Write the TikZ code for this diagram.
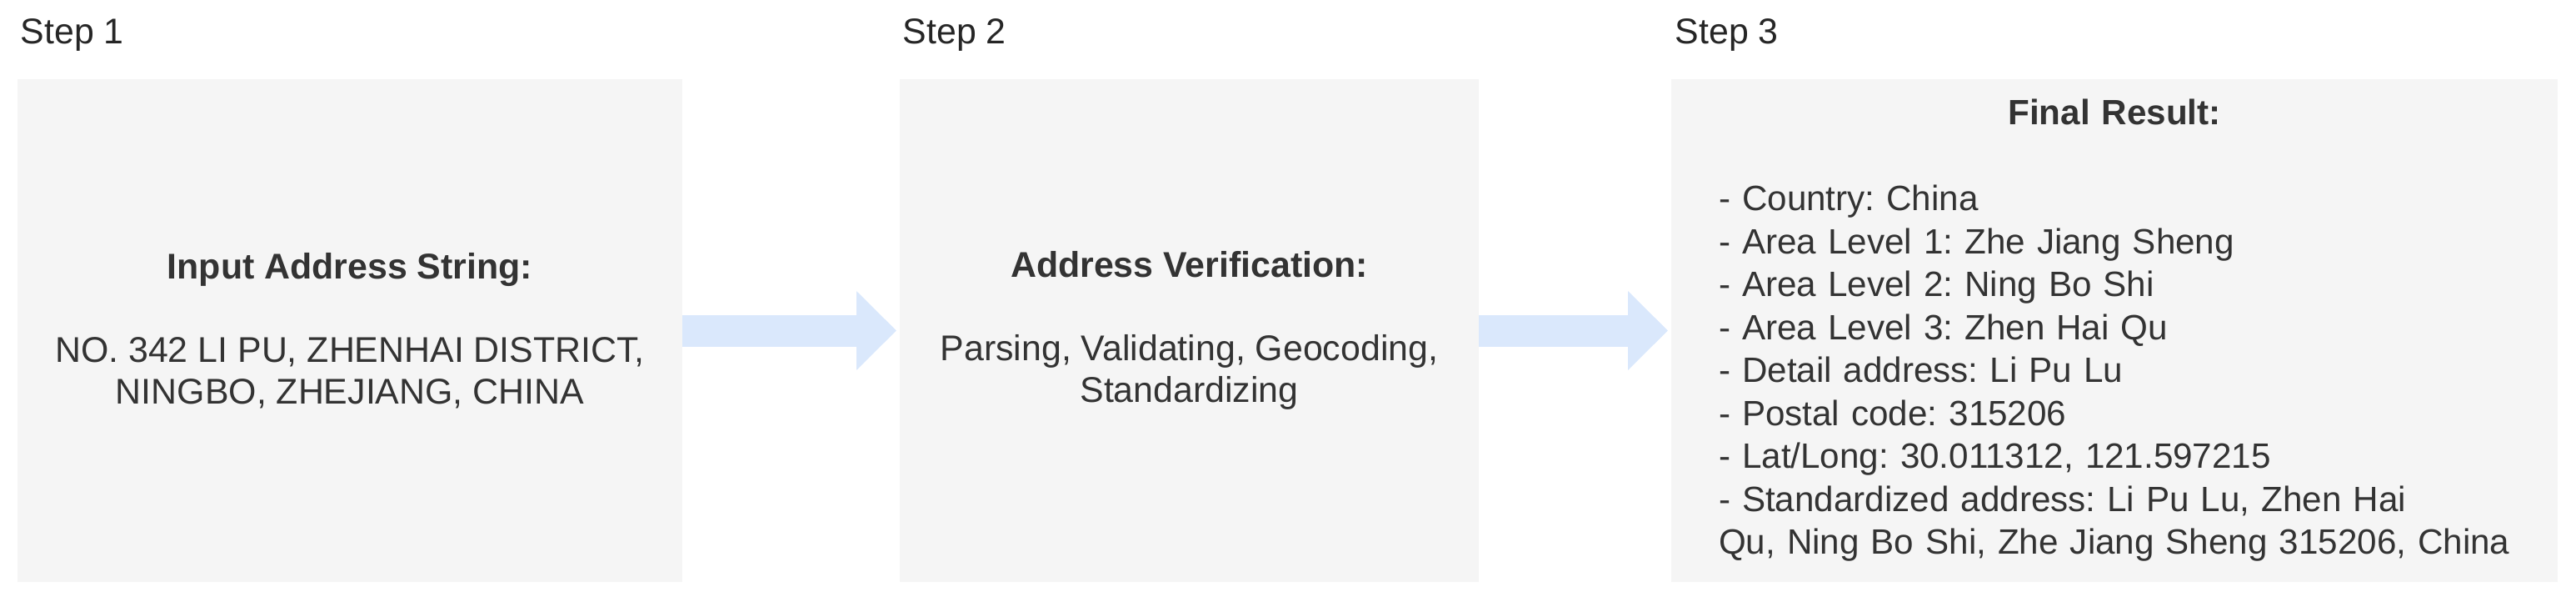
\documentclass[tikz,border=0pt]{standalone}
\usepackage{fontspec}
\setmainfont{Liberation Sans}
\usetikzlibrary{positioning,arrows.meta}
\definecolor{boxgrey}{HTML}{F5F5F5}
\definecolor{boxtext}{HTML}{333333}
\definecolor{arrowblue}{HTML}{DAE8FC}
\frenchspacing

\begin{document}
\begin{tikzpicture}[
    stepbox/.style={fill=boxgrey, text=boxtext, minimum height=6.03cm, inner sep=0pt, outer sep=0pt,
      font=\fontsize{12.2}{14.2}\selectfont, align=center},
    steplabel/.style={text=black!85, inner sep=0pt, font=\fontsize{12.2}{15}\selectfont},
    flowarrow/.style={arrowblue, line width=3.8mm, shorten >=0.4mm, -{Triangle[length=4.8mm,width=9.2mm]}}
  ]
  \useasboundingbox (0,0) rectangle (30.92,7.21);

  % the three steps
  \node[stepbox, minimum width=7.98cm] (input) at (4.20,3.245)
    {\textbf{Input Address String:}\\[14.2pt]
     NO. 342 LI PU, ZHENHAI DISTRICT,\\
     NINGBO, ZHEJIANG, CHINA};
  \node[stepbox, minimum width=6.95cm, right=2.61cm of input] (verify)
    {\textbf{Address Verification:}\\[14.2pt]
     Parsing, Validating, Geocoding,\\
     Standardizing};
  \node[stepbox, minimum width=10.64cm, right=2.31cm of verify, align=left, text width=9.5cm,
    font=\fontsize{12.0}{14.65}\selectfont] (result)
    {\makebox[9.5cm]{\textbf{Final Result:}}\\[14.65pt]
     - Country: China\\
     - Area Level 1: Zhe Jiang Sheng\\
     - Area Level 2: Ning Bo Shi\\
     - Area Level 3: Zhen Hai Qu\\
     - Detail address: Li Pu Lu\\
     - Postal code: 315206\\
     - Lat/Long: 30.011312, 121.597215\\
     - Standardized address: Li Pu Lu, Zhen Hai\\
     \mbox{Qu, Ning Bo Shi, Zhe Jiang Sheng 315206, China}};

  % step titles
  \node[steplabel, above right=0.42cm and 0.03cm of input.north west, anchor=base west] (step1) {Step 1};
  \node[steplabel, above right=0.42cm and 0.03cm of verify.north west, anchor=base west] (step2) {Step 2};
  \node[steplabel, above right=0.42cm and 0.04cm of result.north west, anchor=base west] (step3) {Step 3};

  % arrows
  \draw[flowarrow] (input) -- (verify);
  \draw[flowarrow] (verify) -- (result);
\end{tikzpicture}
\end{document}
